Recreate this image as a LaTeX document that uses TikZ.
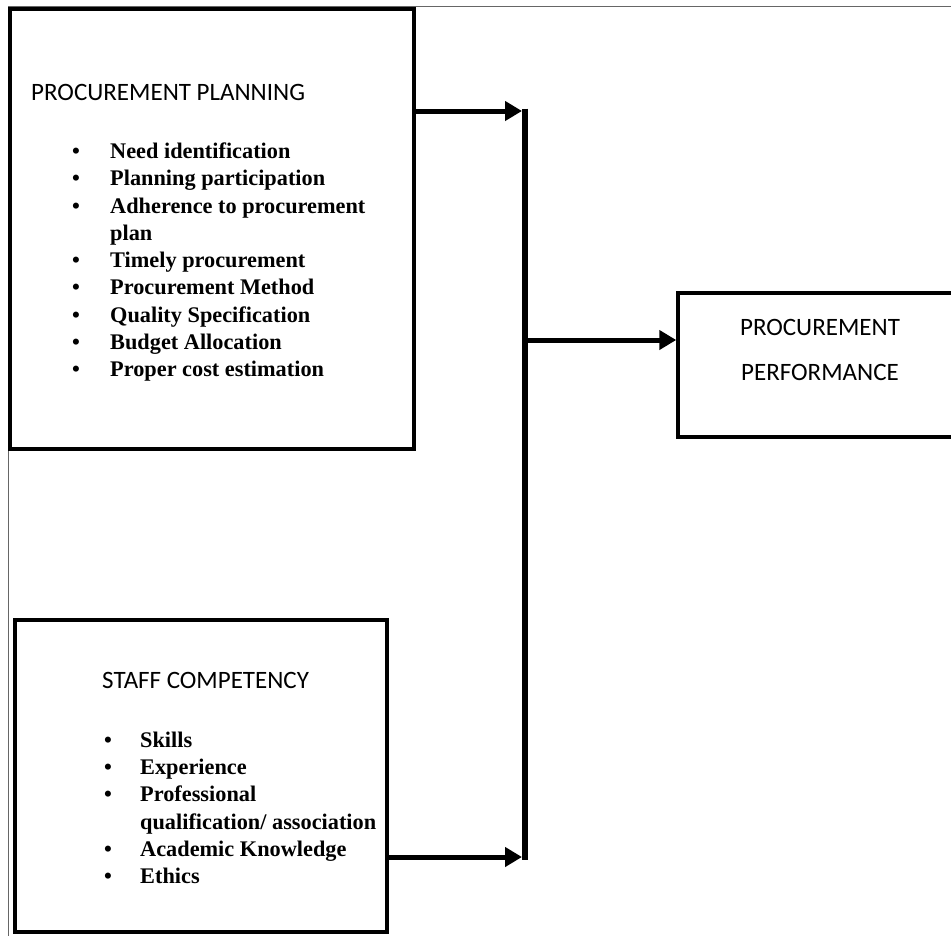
\documentclass[tikz,border=0pt]{standalone}
\usepackage{fontspec}
\setmainfont{Liberation Serif}
\newfontfamily\capsfont{Carlito}
\usetikzlibrary{arrows.meta,positioning}
\tikzstyle{blk}=[rectangle,draw,line width=3.5pt,inner sep=0pt]
\tikzstyle{heading}=[font=\capsfont\fontsize{25}{30}\selectfont,anchor=base west,inner sep=0pt]
\tikzstyle{item}=[font=\bfseries\fontsize{22.3}{27}\selectfont,anchor=base west,inner sep=0pt]
\tikzstyle{dot}=[font=\bfseries\fontsize{22.3}{27}\selectfont,anchor=base,inner sep=0pt]
\tikzstyle{link}=[draw,line width=5pt,-{Triangle[length=17pt,width=19pt]}]
\tikzstyle{bar}=[draw,line width=6pt]

\begin{document}
\begin{tikzpicture}[x=1pt,y=-1pt]

  \clip (0,0) rectangle (951,935);
  \draw[black!60, line width=1pt] (8,6) rectangle (975,965);

  % boxes
  \node[blk, minimum width=404pt, minimum height=440pt] (plan) at (212,229) {};
  \node[blk, minimum width=372pt, minimum height=312pt] (staff) at (201,776) {};
  \node[blk, minimum width=290pt, minimum height=144pt] (perf) at (823,365) {};

  % planning
  \node[heading] (planhd) at (31,100) {PROCUREMENT PLANNING};
  \foreach \y/\txt in {158/Need identification, 185/Planning participation, 213/Adherence to procurement, 267/Timely procurement, 294/Procurement Method, 322/Quality Specification, 349/Budget Allocation, 376/Proper cost estimation}
  {
    \node[dot] (pd\y) at (76,\y) {\textbullet};
    \node[item] (pi\y) at (110,\y) {\txt};
  }
  \node[item] (pi240) at (110,240) {plan};

  % staff
  \node[heading] (staffhd) at (102,688) {STAFF COMPETENCY};
  \foreach \y/\txt in {747/Skills, 774/Experience, 801/Professional, 856/Academic Knowledge, 883/Ethics}
  {
    \node[dot] (sd\y) at (108,\y) {\textbullet};
    \node[item] (si\y) at (140,\y) {\txt};
  }
  \node[item] (si829) at (140,829) {qualification/ association};

  % performance
  \node[heading, anchor=base] (perfa) at (820,335) {PROCUREMENT};
  \node[heading, anchor=base] (perfb) at (820,380) {PERFORMANCE};

  % connectors
  \coordinate (jtop) at (525,111);
  \coordinate (jmid) at (525,340);
  \coordinate (jbot) at (525,857);
  \path[bar] ([yshift=2.5pt]jtop) -- ([yshift=-2.5pt]jbot);
  \path[link] (plan.east |- jtop) -- ([xshift=-3pt]jtop);
  \path[link] (jmid) -- (perf.west |- jmid);
  \path[link] (staff.east |- jbot) -- ([xshift=-3pt]jbot);

\end{tikzpicture}
\end{document}
